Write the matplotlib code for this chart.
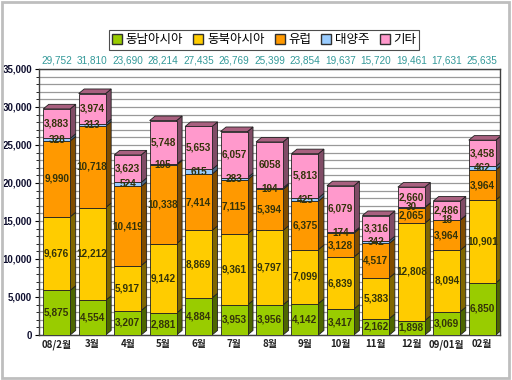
import numpy as np
import matplotlib.pyplot as plt
from matplotlib.patches import Polygon, Rectangle

plt.rcParams['font.family'] = ['Noto Sans CJK KR', 'DejaVu Sans']
num_font = ['Liberation Sans', 'DejaVu Sans']

months = ['08/2월', '3월', '4월', '5월', '6월', '7월', '8월', '9월', '10월', '11월', '12월', '09/01월', '02월']
series = ['동남아시아', '동북아시아', '유럽', '대양주', '기타']
se_asia = [5875, 4554, 3207, 2881, 4884, 3953, 3956, 4142, 3417, 2162, 1898, 3069, 6850]
ne_asia = [9676, 12212, 5917, 9142, 8869, 9361, 9797, 7099, 6839, 5383, 12808, 8094, 10901]
europe = [9990, 10718, 10419, 10338, 7414, 7115, 5394, 6375, 3128, 4517, 2065, 3964, 3964]
oceania = [328, 313, 524, 105, 615, 283, 194, 425, 174, 342, 30, 18, 462]
other = [3883, 3974, 3623, 5748, 5653, 6057, 6058, 5813, 6079, 3316, 2660, 2486, 3458]
totals = ['29,752', '31,810', '23,690', '28,214', '27,435', '26,769', '25,399',
          '23,854', '19,637', '15,720', '19,461', '17,631', '25,635']
other_labels = ['3,883', '3,974', '3,623', '5,748', '5,653', '6,057', '6058',
                '5,813', '6,079', '3,316', '2,660', '2,486', '3,458']

front = ['#99CC00', '#FFCC00', '#FF9900', '#99CCFF', '#FF99CC']
side = ['#4D6600', '#806600', '#804C00', '#4D6680', '#804C66']
top_col = '#A8607F'

fig = plt.figure(figsize=(5.12, 3.80), dpi=100)
ax = fig.add_axes([39/512, 45/380, 461/512, 266/380])
ax.set_xlim(-0.5, 12.5)
ax.set_ylim(0, 35000)

x = np.arange(len(months))
w = 0.76
dx = 0.155
dy = 600

data = [se_asia, ne_asia, europe, oceania, other]
bottom = np.zeros(len(months))
for k, vals in enumerate(data):
    vals = np.array(vals, dtype=float)
    ax.bar(x, vals, w, bottom=bottom, color=front[k], edgecolor='#202020', linewidth=0.6, zorder=3)
    for i in range(len(x)):
        y0, y1 = bottom[i], bottom[i] + vals[i]
        xr = x[i] + w/2
        ax.add_patch(Polygon([(xr, y0), (xr+dx, y0+dy), (xr+dx, y1+dy), (xr, y1)],
                             closed=True, facecolor=side[k], edgecolor='#202020', lw=0.6, zorder=2))
        lab = other_labels[i] if k == 4 else f'{int(vals[i]):,}'
        ax.text(x[i], (y0+y1)/2, lab, ha='center', va='center', fontsize=7.2,
                fontweight='bold', color='#33330A', zorder=5, family=num_font)
    bottom += vals

for i in range(len(x)):
    t = bottom[i]
    xl, xr = x[i] - w/2, x[i] + w/2
    ax.add_patch(Polygon([(xl, t), (xl+dx, t+dy), (xr+dx, t+dy), (xr, t)],
                         closed=True, facecolor=top_col, edgecolor='#202020', lw=0.6, zorder=2))
    ax.text(x[i], 1.032, totals[i], transform=ax.get_xaxis_transform(), ha='center', va='center',
            fontsize=7.2, color='#339999', family=num_font)

ax.set_yticks(np.arange(0, 35001, 5000))
ax.set_yticklabels([f'{v:,}' for v in range(0, 35001, 5000)], fontsize=7, fontweight='bold',
                   color='#101030', family=num_font)
ax.set_yticks(np.arange(0, 35001, 1000), minor=True)
ax.grid(True, which='both', axis='y', color='#999999', linewidth=0.9, zorder=0)
ax.set_xticks(x)
ax.set_xticklabels(months, fontsize=7, fontweight='bold', color='#202020')
ax.tick_params(axis='x', length=0, pad=3)
ax.tick_params(axis='y', which='major', length=3, pad=2)
ax.tick_params(axis='y', which='minor', length=2)
for s in ax.spines.values():
    s.set_color('#404040')
    s.set_linewidth(1)

handles = [Rectangle((0, 0), 1, 1, facecolor=c, edgecolor='#303030') for c in front]
leg = fig.legend(handles, series, loc='center', bbox_to_anchor=(0.516, 0.895), ncol=5,
                 fontsize=9, frameon=True, fancybox=False, edgecolor='#202020',
                 handlelength=0.8, handleheight=0.8, handletextpad=0.3, columnspacing=0.8,
                 borderpad=0.25)
leg.get_frame().set_linewidth(0.8)

fig.add_artist(Rectangle((0.004, 0.006), 0.99, 0.988, transform=fig.transFigure,
                         fill=False, edgecolor='#BEBEBE', linewidth=2))

fig.savefig('out.png', dpi=100)
